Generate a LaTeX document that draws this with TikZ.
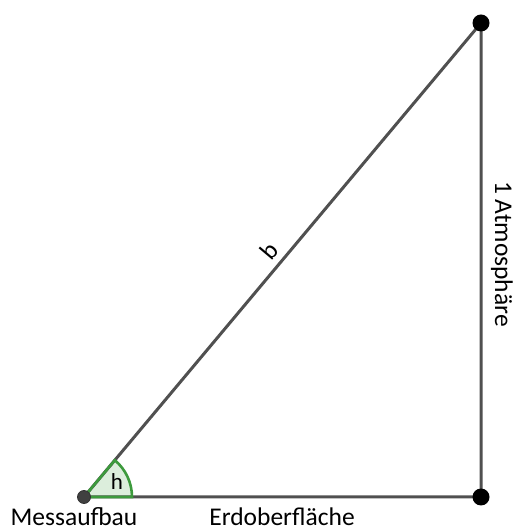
\documentclass[tikz,border=0pt]{standalone}
\usepackage{fontspec}
\setmainfont{Carlito}
\definecolor{linegray}{HTML}{505050}
\definecolor{anglegreen}{HTML}{3C9A3C}
\definecolor{anglefill}{HTML}{DCEEDC}
\begin{document}
\begin{tikzpicture}[x=1pt,y=1pt,
  edge/.style={draw=linegray,line width=3pt},
  bigdot/.style={circle,fill=black,inner sep=0pt,minimum size=17pt},
  smalldot/.style={circle,fill=linegray!80!black,draw=black!80,line width=0.8pt,inner sep=0pt,minimum size=13pt},
  lbl/.style={font=\fontsize{25.5}{28}\selectfont,inner sep=0pt}]
\useasboundingbox (0,0) rectangle (513,530);
\coordinate (A) at (84,33);
\coordinate (B) at (481,33);
\coordinate (C) at (481,507);
% angle sector
\path[fill=anglefill] (A) -- ++(48,0) arc[start angle=0,end angle=50.05,radius=48] -- cycle;
\draw[edge] (A) -- (B) -- (C) -- (A);
\draw[anglegreen,line width=2.6pt] (A) -- ++(48,0) arc[start angle=0,end angle=50.05,radius=48] -- cycle;
\node[smalldot] (Ad) at (A) {};
\node[bigdot] (Bd) at (B) {};
\node[bigdot] (Cd) at (C) {};
\node[lbl,font=\fontsize{23}{26}\selectfont] (h) at (117,48) {h};
\node[lbl,anchor=base] (mess) at (74,5) {Messaufbau};
\node[lbl,anchor=base] (erd) at (282,5) {Erdoberfläche};
\node[lbl,rotate=-90] (atm) at (502,276) {1 Atmosphäre};
\node[lbl,rotate=50] (b) at (269,279) {b};
\end{tikzpicture}
\end{document}
